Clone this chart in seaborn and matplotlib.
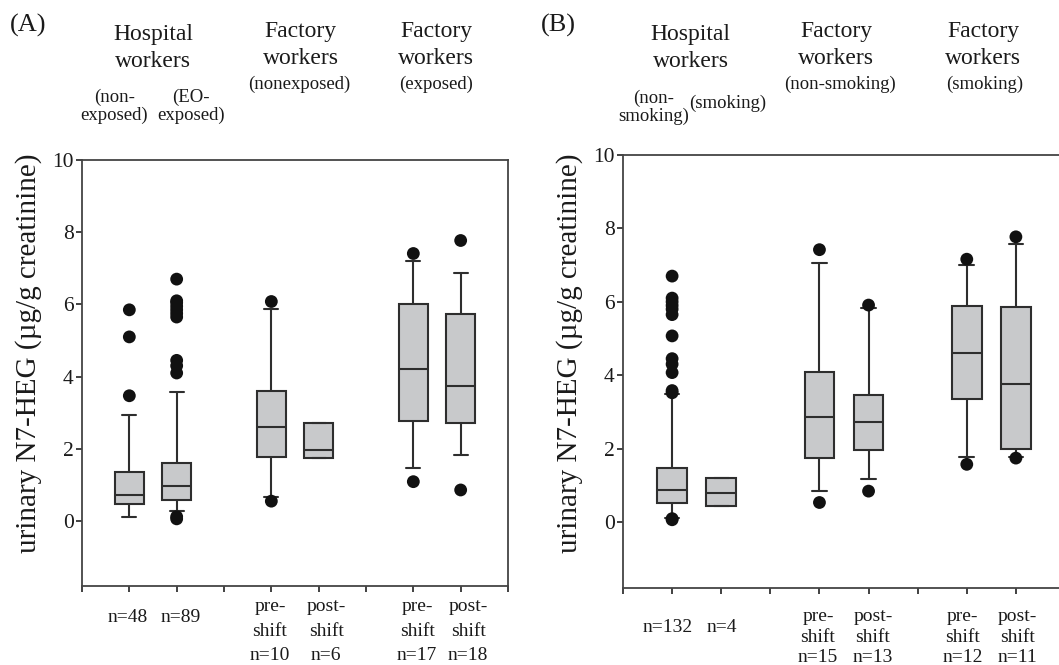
import matplotlib
matplotlib.use("Agg")
import matplotlib.pyplot as plt
import matplotlib.transforms as mtransforms
import numpy as np
import pandas as pd
import seaborn as sns

# box positions on a 0..9 axis (empty slots at 3 and 6)
positions = [1, 2, 4, 5, 7, 8]

# panel A: five-number summaries
a_whislo = [0.12, 0.28, 0.67, 1.75, 1.48, 1.84]
a_q1 = [0.47, 0.57, 1.76, 1.75, 2.78, 2.72]
a_med = [0.72, 0.97, 2.61, 1.98, 4.21, 3.74]
a_q3 = [1.37, 1.60, 3.61, 2.71, 6.00, 5.74]
a_whishi = [2.93, 3.58, 5.88, 2.71, 7.21, 6.86]
a_outliers = [
    [3.47, 5.10, 5.85],
    [0.06, 0.12, 4.10, 4.30, 4.45, 5.65, 5.75, 5.85, 5.95, 6.05, 6.10, 6.70],
    [0.55, 6.08],
    [],
    [1.09, 7.41],
    [0.86, 7.77],
]

# panel B
b_whislo = [0.10, 0.44, 0.84, 1.18, 1.76, 1.76]
b_q1 = [0.52, 0.44, 1.75, 1.96, 3.36, 2.00]
b_med = [0.87, 0.78, 2.87, 2.72, 4.61, 3.75]
b_q3 = [1.46, 1.20, 4.10, 3.46, 5.89, 5.85]
b_whishi = [3.49, 1.20, 7.07, 5.82, 6.99, 7.57]
b_outliers = [
    [0.06, 0.09, 3.52, 3.58, 4.07, 4.30, 4.45, 5.07, 5.65, 5.80, 5.90, 6.00, 6.10, 6.70],
    [],
    [0.53, 7.42],
    [0.84, 5.91],
    [1.57, 7.16],
    [1.74, 7.77],
]

a_bottom = ["n=48", "n=89", "pre-\nshift\nn=10", "post-\nshift\nn=6", "pre-\nshift\nn=17", "post-\nshift\nn=18"]
b_bottom = ["n=132", "n=4", "pre-\nshift\nn=15", "post-\nshift\nn=13", "pre-\nshift\nn=12", "post-\nshift\nn=11"]

ylabel = "urinary N7-HEG (\u00b5g/g creatinine)"

sns.set_style("ticks")
plt.rcParams['font.family'] = ['Liberation Serif', 'DejaVu Serif']
plt.rcParams['text.color'] = "#1a1a1a"

W, H = 1059, 665
fig = plt.figure(figsize=(W / 100, H / 100), dpi=100)
fill = "#c8c9cb"
dark = "#2e2e2e"


def fy(ypx):
    return 1 - ypx / H


def panel(ax, whislo, q1, med, q3, whishi, outliers):
    df = pd.DataFrame({
        "pos": np.repeat(positions, 5),
        "value": np.column_stack([whislo, q1, med, q3, whishi]).ravel(),
    })
    sns.boxplot(data=df, x="pos", y="value", native_scale=True, whis=(0, 100),
                width=0.6, color=fill, saturation=1, linecolor=dark, linewidth=1.5,
                fliersize=0, ax=ax)
    out = pd.DataFrame({
        "pos": [p for p, o in zip(positions, outliers) for _ in o],
        "value": [v for o in outliers for v in o],
    })
    sns.scatterplot(data=out, x="pos", y="value", color="#111111", s=85,
                    edgecolor="none", ax=ax, zorder=3, clip_on=False)
    ax.set_xlim(0, 9)
    ax.set_ylim(-1.8, 10)
    ax.set_xticks(range(10))
    ax.set_xticklabels([])
    ax.set_yticks(range(0, 11, 2))
    ax.set_xlabel("")
    ax.set_ylabel("")
    ax.tick_params(axis="both", direction="out", length=4.5, width=1.3, color="#333333",
                   labelsize=15.5, pad=1.5, labelcolor="#1a1a1a")
    for s in ax.spines.values():
        s.set_visible(True)
        s.set_color("#444444")
        s.set_linewidth(1.3)


# panel A
axA = fig.add_axes([82 / W, fy(586), (508 - 82) / W, (586 - 160) / H])
panel(axA, a_whislo, a_q1, a_med, a_q3, a_whishi, a_outliers)
# panel B (right spine falls just outside the image)
axB = fig.add_axes([623 / W, fy(588), (1065 - 623) / W, (588 - 155) / H])
panel(axB, b_whislo, b_q1, b_med, b_q3, b_whishi, b_outliers)

fig.text(28 / W, fy(25), "(A)", fontsize=19, ha="center", va="center")
fig.text(558 / W, fy(25), "(B)", fontsize=19, ha="center", va="center")
fig.text(29 / W, fy(353), ylabel, fontsize=21, rotation=90, ha="center", va="center")
fig.text(570 / W, fy(353), ylabel, fontsize=21, rotation=90, ha="center", va="center")

trA = mtransforms.blended_transform_factory(axA.transData, fig.transFigure)
trB = mtransforms.blended_transform_factory(axB.transData, fig.transFigure)

big = dict(fontsize=17, ha="center", va="center", linespacing=1.4)
small = dict(fontsize=13.5, ha="center", va="center", linespacing=1.05)

# headers A
axA.text(1.5, fy(48), "Hospital\nworkers", transform=trA, **big)
axA.text(0.68, fy(106), "(non-\nexposed)", transform=trA, **small)
axA.text(2.3, fy(106), "(EO-\nexposed)", transform=trA, **small)
axA.text(4.62, fy(45), "Factory\nworkers", transform=trA, **big)
axA.text(4.6, fy(84), "(nonexposed)", transform=trA, **small)
axA.text(7.48, fy(45), "Factory\nworkers", transform=trA, **big)
axA.text(7.48, fy(84), "(exposed)", transform=trA, **small)

# headers B
axB.text(1.38, fy(48), "Hospital\nworkers", transform=trB, **big)
axB.text(0.63, fy(107), "(non-\nsmoking)", transform=trB, **small)
axB.text(2.14, fy(103), "(smoking)", transform=trB, **small)
axB.text(4.34, fy(45), "Factory\nworkers", transform=trB, **big)
axB.text(4.42, fy(84), "(non-smoking)", transform=trB, **small)
axB.text(7.33, fy(45), "Factory\nworkers", transform=trB, **big)
axB.text(7.37, fy(84), "(smoking)", transform=trB, **small)

# bottom labels
a_xoff = [0.96, 2.09, 3.97, 5.16, 7.08, 8.16]
b_xoff = [0.91, 2.01, 3.97, 5.09, 6.91, 8.03]
for x, lab in zip(a_xoff, a_bottom):
    multi = "\n" in lab
    axA.text(x, fy(631 if multi else 617), lab, transform=trA, fontsize=14,
             ha="center", va="center", linespacing=1.6)
for x, lab in zip(b_xoff, b_bottom):
    multi = "\n" in lab
    axB.text(x, fy(637 if multi else 627), lab, transform=trB, fontsize=14,
             ha="center", va="center", linespacing=1.3)

fig.savefig("out.png", dpi=100)
